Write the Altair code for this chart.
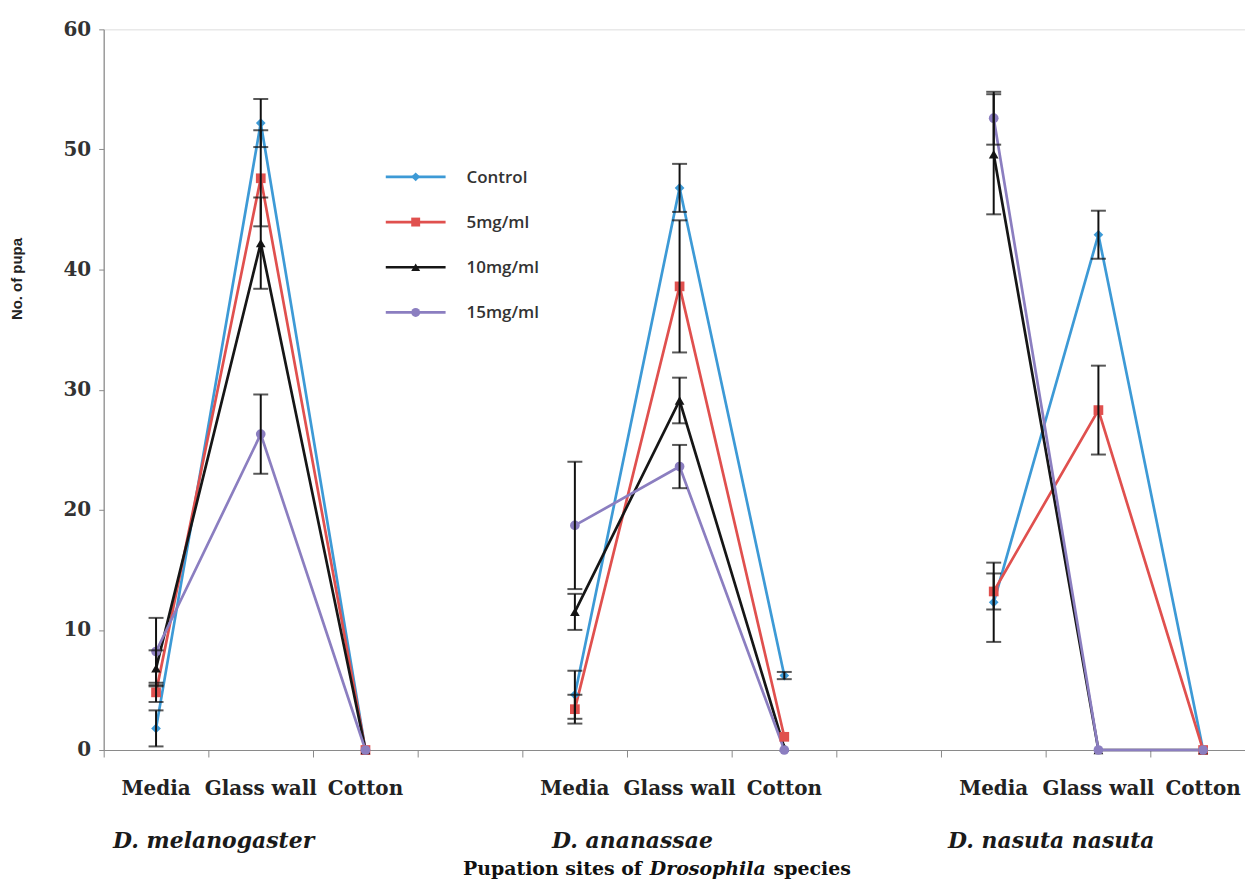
import altair as alt
import pandas as pd

# ---------------- data ----------------
species = ["D. melanogaster", "D. ananassae", "D. nasuta nasuta"]
sites = ["Media", "Glass wall", "Cotton"]
treatments = ["Control", "5mg/ml", "10mg/ml", "15mg/ml"]

# mean no. of pupa, order: species x site
control = [1.8, 52.2, 0.0, 4.6, 46.8, 6.2, 12.3, 42.9, 0.0]
mg5 = [4.8, 47.6, 0.0, 3.4, 38.6, 1.1, 13.2, 28.3, 0.0]
mg10 = [6.8, 42.2, 0.0, 11.5, 29.1, 0.2, 49.6, 0.0, 0.0]
mg15 = [8.2, 26.3, 0.0, 18.7, 23.6, 0.0, 52.6, 0.0, 0.0]

# error (+/-)
control_err = [1.5, 2.0, 0.0, 2.0, 2.0, 0.3, 3.3, 2.0, 0.0]
mg5_err = [0.8, 4.0, 0.0, 1.2, 5.5, 0.0, 1.5, 3.7, 0.0]
mg10_err = [1.5, 3.8, 0.0, 1.5, 1.9, 0.0, 5.0, 0.0, 0.0]
mg15_err = [2.8, 3.3, 0.0, 5.3, 1.8, 0.0, 2.2, 0.0, 0.0]

y_ticks = [0, 10, 20, 30, 40, 50, 60]

# ---------------- styles ----------------
colors = ["#3D9AD6", "#E0504E", "#161616", "#8B7EC0"]
shapes = ["diamond", "square", "triangle-up", "circle"]

means = [control, mg5, mg10, mg15]
errors = [control_err, mg5_err, mg10_err, mg15_err]

rows = []
for t_i, t in enumerate(treatments):
    for s_i, sp in enumerate(species):
        for k, site in enumerate(sites):
            i = s_i * 3 + k
            v = means[t_i][i]
            e = errors[t_i][i]
            rows.append(dict(treatment=t, t_order=t_i, species=sp, site=site,
                             pos=s_i * 4 + k + 0.5, value=v, err=e,
                             lo=v - e, hi=v + e))
df = pd.DataFrame(rows)

site_df = pd.DataFrame([dict(pos=s_i * 4 + k + 0.5, label=site)
                        for s_i in range(len(species)) for k, site in enumerate(sites)])
species_df = pd.DataFrame([dict(pos=s_i * 4 + 1.05, label=sp) for s_i, sp in enumerate(species)])
legend_df = pd.DataFrame({"treatment": treatments})

W, H = 1145, 723
SERIF = "DejaVu Serif"

x_scale = alt.Scale(domain=[0, 10.9], nice=False, zero=False)
x_axis = alt.Axis(values=list(range(0, 11)), labels=False, title=None, grid=False,
                  tickSize=7, tickColor="#8a8a8a", domainColor="#8a8a8a",
                  tickWidth=1, domainWidth=1.2)
y_scale = alt.Scale(domain=[0, 60], nice=False, zero=True)
y_axis = alt.Axis(values=y_ticks, grid=False, title="No. of pupa",
                  labelFont=SERIF, labelFontWeight="bold", labelFontSize=20,
                  labelColor="#333333", labelPadding=8, tickSize=5,
                  tickColor="#8a8a8a", domainColor="#8a8a8a", domainWidth=1.2,
                  titleFont="Liberation Sans", titleFontWeight="bold",
                  titleFontSize=15, titleColor="#222222", titleAngle=270,
                  titleX=-87, titleY=250, titleAlign="center", titleBaseline="middle")


def X(field):
    return alt.X(field, scale=x_scale, axis=x_axis, title=None)


def Y(field):
    return alt.Y(field, scale=y_scale, axis=y_axis, title="No. of pupa")


color_enc = alt.Color("treatment:N", scale=alt.Scale(domain=treatments, range=colors), legend=None)
shape_enc = alt.Shape("treatment:N", scale=alt.Scale(domain=treatments, range=shapes), legend=None)

base = alt.Chart(df)

lines = base.mark_line(strokeWidth=2.7).encode(
    x=X("pos:Q"), y=Y("value:Q"), color=color_enc, detail="species:N", order="pos:Q"
)

points = base.mark_point(filled=True, opacity=1, size=95).encode(
    x=X("pos:Q"), y=Y("value:Q"), color=color_enc, shape=shape_enc,
)

err_base = base.transform_filter("datum.err > 0")
err_rules = err_base.mark_rule(color="#111111", strokeWidth=2).encode(
    x=X("pos:Q"), y=Y("lo:Q"), y2="hi:Q"
)
err_caps = err_base.transform_fold(["lo", "hi"], as_=["end", "capv"]).mark_tick(
    orient="horizontal", size=15, thickness=2, color="#111111"
).encode(x=X("pos:Q"), y=Y("capv:Q"))

site_text = alt.Chart(site_df).mark_text(
    font=SERIF, fontWeight="bold", fontSize=20, color="#222222", baseline="middle", align="center"
).encode(x=X("pos:Q"), y=alt.value(H + 39), text="label:N")

species_text = alt.Chart(species_df).mark_text(
    font=SERIF, fontWeight="bold", fontStyle="italic", fontSize=22, color="#1a1a1a",
    baseline="middle", align="center"
).encode(x=X("pos:Q"), y=alt.value(H + 91), text="label:N")

title_df = pd.DataFrame({"a": ["Pupation sites of"], "b": ["Drosophila"], "c": ["species"]})
TY = H + 119
t_mid = alt.Chart(title_df).mark_text(
    font=SERIF, fontWeight="bold", fontStyle="italic", fontSize=19, color="#111111",
    baseline="middle", align="center"
).encode(x=alt.value(606), y=alt.value(TY), text="b:N")
t_left = alt.Chart(title_df).mark_text(
    font=SERIF, fontWeight="bold", fontSize=19, color="#111111",
    baseline="middle", align="right"
).encode(x=alt.value(540), y=alt.value(TY), text="a:N")
t_right = alt.Chart(title_df).mark_text(
    font=SERIF, fontWeight="bold", fontSize=19, color="#111111",
    baseline="middle", align="left"
).encode(x=alt.value(672), y=alt.value(TY), text="c:N")

main = alt.layer(lines, points, err_rules, err_caps,
                 site_text, species_text, t_left, t_mid, t_right)

# ---------------- legend (line + marker keys) ----------------
ly = alt.Y("treatment:N", scale=alt.Scale(type="point", domain=treatments,
                                          range=[148, 284], padding=0), axis=None)
leg_base = alt.Chart(legend_df)
leg_rule = leg_base.mark_rule(strokeWidth=2.7).encode(
    x=alt.value(283), x2=alt.value(343), y=ly, color=color_enc)
leg_pts = leg_base.mark_point(filled=True, opacity=1, size=80).encode(
    x=alt.value(313), y=ly, color=color_enc, shape=shape_enc)
leg_txt = leg_base.mark_text(
    align="left", baseline="middle", font="Open Sans", fontWeight=600, fontSize=17,
    color="#333333", dy=1
).encode(x=alt.value(364), y=ly, text="treatment:N")
legend = alt.layer(leg_rule, leg_pts, leg_txt)

chart = alt.layer(main, legend).resolve_scale(y="independent").properties(
    width=W, height=H,
    autosize=alt.AutoSizeParams(type="none"),
    padding={"left": 96, "top": 20, "right": 0, "bottom": 132},
).configure_view(stroke=None).configure(background="white")

chart.save("out.html", embed_options={"renderer": "svg", "actions": False})
